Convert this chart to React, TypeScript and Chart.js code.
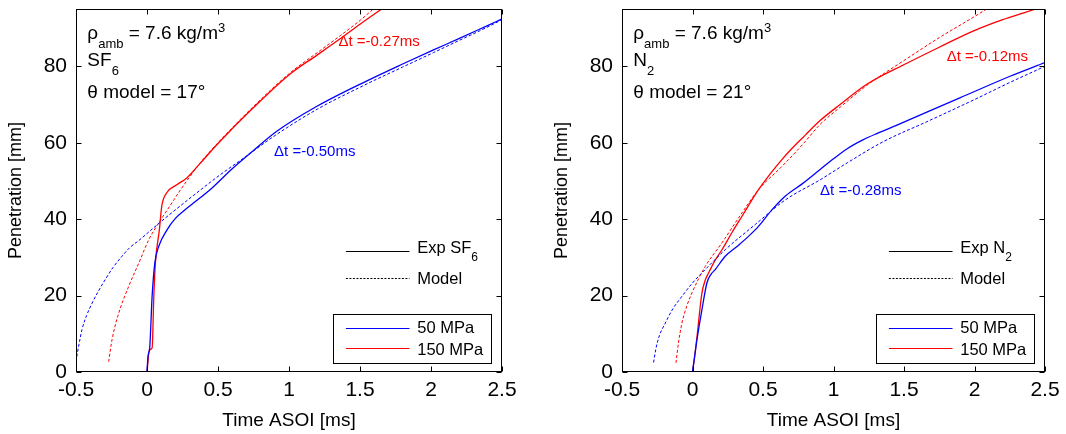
import React, { useEffect, useRef } from "react";
import { Chart, registerables } from "chart.js";

Chart.register(...registerables);

// ---------- axes ----------
const X_TICKS = [-0.5, 0, 0.5, 1, 1.5, 2, 2.5];
const Y_TICKS = [0, 20, 40, 60, 80];
const X_RANGE = [-0.5, 2.5];
const Y_RANGE = [0, 95];

// ---------- text content ----------
const seriesNames = ["50 MPa", "150 MPa"];
const ambientDensity = "7.6";
const gasBase = ["SF", "N"];
const gasSub = ["6", "2"];
const thetaModel = ["17", "21"];
const dt50 = ["-0.50", "-0.28"];
const dt150 = ["-0.27", "-0.12"];

// ---------- SF6 panel data ----------
const sf6Exp50T = [0, 0.007, 0.019, 0.036, 0.055, 0.083, 0.141, 0.2, 0.27, 0.327, 0.444, 0.6, 0.75, 0.914, 1.2, 1.549, 1.8, 2.018, 2.2, 2.394, 2.5];
const sf6Exp50P = [0, 4.1, 6.3, 19.8, 28.5, 32.9, 37.2, 40.2, 42.5, 44.2, 47.7, 53.2, 58, 63, 69.6, 76.2, 80.6, 84.3, 87.3, 90.6, 92.4];

const sf6Mod50T = [-0.5, -0.49, -0.475, -0.458, -0.425, -0.387, -0.34, -0.294, -0.24, -0.176, -0.12, -0.058, 0.036, 0.162, 0.351, 0.515, 0.7, 0.914, 1.2, 1.549, 1.8, 2.018, 2.2, 2.394, 2.5];
const sf6Mod50P = [2.7, 5, 8, 11.1, 14.8, 18, 21.3, 24.2, 27.3, 30.3, 32.6, 34.4, 37.4, 41.3, 46.9, 51.6, 56.5, 62.2, 68.8, 75.4, 79.8, 83.6, 86.8, 90.2, 92.2];

const sf6Exp150T = [0, 0.017, 0.036, 0.048, 0.059, 0.087, 0.104, 0.139, 0.21, 0.28, 0.374, 0.5, 0.75, 1.008, 1.2, 1.36, 1.5, 1.66];
const sf6Exp150P = [0, 5.8, 6.3, 19.8, 28.5, 37.2, 43.4, 46.9, 49, 50.8, 54.6, 59.8, 69.2, 78, 83, 87.2, 91, 95.2];

const sf6Mod150T = [-0.27, -0.246, -0.199, -0.129, -0.058, 0.012, 0.045, 0.1, 0.162, 0.22, 0.28, 0.374, 0.5, 0.75, 1.008, 1.2, 1.36, 1.5, 1.6];
const sf6Mod150P = [2.7, 8.5, 15.4, 22.4, 28.5, 34.6, 36.8, 40, 43.5, 46.8, 50, 54.7, 60, 69.5, 78.3, 83.6, 88, 92, 95.2];

// ---------- N2 panel data ----------
const n2Exp50T = [0, 0.015, 0.032, 0.067, 0.102, 0.13, 0.161, 0.232, 0.32, 0.397, 0.468, 0.56, 0.657, 0.78, 0.905, 1.0, 1.1, 1.212, 1.307, 1.45, 1.662, 1.9, 2.252, 2.5];
const n2Exp50P = [0, 4, 8.5, 16.3, 23.3, 25.5, 26.8, 30.3, 33, 35.5, 38.1, 42.3, 46, 49.3, 53, 55.8, 58.5, 60.8, 62.4, 64.6, 68, 71.8, 77.4, 81];

const n2Mod50T = [-0.276, -0.26, -0.235, -0.193, -0.14, -0.075, 0, 0.09, 0.232, 0.445, 0.657, 0.905, 1.1, 1.354, 1.662, 2.0, 2.252, 2.5];
const n2Mod50P = [2.5, 6, 9.5, 12.8, 16.5, 19.8, 23.3, 26.8, 32, 38.6, 45, 50.3, 54.8, 60.3, 65.5, 71.3, 75.8, 80];

const n2Exp150T = [0, 0.015, 0.032, 0.067, 0.09, 0.114, 0.16, 0.209, 0.28, 0.35, 0.468, 0.55, 0.634, 0.7, 0.8, 0.905, 1.047, 1.236, 1.52, 1.75, 1.99, 2.2, 2.35, 2.46];
const n2Exp150P = [0, 4, 9.3, 20.7, 24, 25.9, 29.2, 32, 36.5, 40.7, 47.7, 51.8, 55.6, 58.3, 62, 65.8, 70, 75.3, 80.8, 85, 89.2, 92.2, 94, 95.3];

const n2Mod150T = [-0.117, -0.1, -0.075, -0.04, -0.004, 0.09, 0.209, 0.35, 0.468, 0.634, 0.78, 0.905, 1.047, 1.236, 1.52, 1.75, 1.99, 2.1];
const n2Mod150P = [2.4, 7.5, 12.8, 17.3, 20.7, 27.6, 33.8, 41.6, 47.7, 53.8, 59.5, 64.8, 69.3, 75, 82, 87.5, 92.8, 95.3];

// ---------- styling ----------
const FONT = "'Liberation Sans', Arial, Helvetica, sans-serif";
const BLUE = "#0000ff";
const RED = "#ff0000";

type Part = { t: string; sub?: boolean; sup?: boolean };

function richText(ctx: CanvasRenderingContext2D, x: number, y: number, parts: Part[], size: number, subSize: number, subDy: number, supDy: number) {
  let cx = x;
  for (const p of parts) {
    const s = p.sub || p.sup ? subSize : size;
    ctx.font = `${s}px ${FONT}`;
    const dy = p.sub ? subDy : p.sup ? supDy : 0;
    ctx.fillText(p.t, cx, y + dy);
    cx += ctx.measureText(p.t).width;
  }
}

type PanelCfg = {
  idx: number;
  exp50: [number[], number[]];
  mod50: [number[], number[]];
  exp150: [number[], number[]];
  mod150: [number[], number[]];
  dt50At: [number, number];
  dt150At: [number, number];
  axisWidth: number;
  padRight: number;
  titlePad: number;
};

const panels: PanelCfg[] = [
  {
    idx: 0,
    exp50: [sf6Exp50T, sf6Exp50P],
    mod50: [sf6Mod50T, sf6Mod50P],
    exp150: [sf6Exp150T, sf6Exp150P],
    mod150: [sf6Mod150T, sf6Mod150P],
    dt50At: [0.895, 56.4],
    dt150At: [1.348, 85.2],
    axisWidth: 76,
    padRight: 31,
    titlePad: 5,
  },
  {
    idx: 1,
    exp50: [n2Exp50T, n2Exp50P],
    mod50: [n2Mod50T, n2Mod50P],
    exp150: [n2Exp150T, n2Exp150P],
    mod150: [n2Mod150T, n2Mod150P],
    dt50At: [0.905, 46.4],
    dt150At: [1.803, 81.3],
    axisWidth: 89,
    padRight: 21,
    titlePad: 18,
  },
];

const toPts = (s: [number[], number[]]) => s[0].map((x, i) => ({ x, y: s[1][i] }));

function decorPlugin(cfg: PanelCfg) {
  return {
    id: "decor" + cfg.idx,
    afterDraw(chart: any) {
      const { ctx, chartArea: a, scales } = chart;
      const xs = scales.x;
      const ys = scales.y;
      ctx.save();
      // frame
      ctx.strokeStyle = "#000";
      ctx.lineWidth = 1;
      const L = a.left + 0.5, R = a.right - 0.5, T = a.top + 0.5, B = a.bottom - 0.5;
      ctx.strokeRect(L, T, R - L, B - T);
      // inward ticks on all four sides
      const tl = 5;
      ctx.beginPath();
      for (const v of X_TICKS) {
        const px = Math.round(xs.getPixelForValue(v)) + 0.5;
        ctx.moveTo(px, B); ctx.lineTo(px, B - tl);
        ctx.moveTo(px, T); ctx.lineTo(px, T + tl);
      }
      for (const v of Y_TICKS) {
        const py = Math.round(ys.getPixelForValue(v)) + 0.5;
        ctx.moveTo(L, py); ctx.lineTo(L + tl, py);
        ctx.moveTo(R, py); ctx.lineTo(R - tl, py);
      }
      ctx.stroke();

      // annotation block top-left
      ctx.fillStyle = "#000";
      ctx.textAlign = "left";
      ctx.textBaseline = "alphabetic";
      const ax = xs.getPixelForValue(-0.42);
      richText(ctx, ax, ys.getPixelForValue(87.2),
        [{ t: "ρ" }, { t: "amb", sub: true }, { t: " = " + ambientDensity + " kg/m" }, { t: "3", sup: true }],
        19, 13, 9, -6.5);
      richText(ctx, ax, ys.getPixelForValue(80),
        [{ t: gasBase[cfg.idx] }, { t: gasSub[cfg.idx], sub: true }], 19, 13, 8.5, -6.5);
      richText(ctx, ax, ys.getPixelForValue(71.7),
        [{ t: "θ model = " + thetaModel[cfg.idx] + "°" }], 19, 13, 8.5, -6.5);

      // delta t labels
      ctx.font = `15px ${FONT}`;
      ctx.fillStyle = BLUE;
      ctx.fillText("Δt =" + dt50[cfg.idx] + "ms", xs.getPixelForValue(cfg.dt50At[0]), ys.getPixelForValue(cfg.dt50At[1]));
      ctx.fillStyle = RED;
      ctx.fillText("Δt =" + dt150[cfg.idx] + "ms", xs.getPixelForValue(cfg.dt150At[0]), ys.getPixelForValue(cfg.dt150At[1]));

      // legends
      const boxW = 158.4, boxH = 48.7;
      const bx = a.right - 10.5 - boxW;
      const by = a.bottom - 9.5 - boxH;
      const lx1 = bx + 12.8, lx2 = bx + 76.4, tx = bx + 84.1;
      const bxr = Math.round(bx) + 0.5, byr = Math.round(by) + 0.5;
      ctx.fillStyle = "#fff";
      ctx.fillRect(bxr, byr, Math.round(boxW), Math.round(boxH));
      ctx.strokeStyle = "#000";
      ctx.lineWidth = 1;
      ctx.strokeRect(bxr, byr, Math.round(boxW), Math.round(boxH));

      // Exp / Model (no box)
      ctx.strokeStyle = "#000";
      ctx.lineWidth = 1.2;
      ctx.setLineDash([]);
      ctx.beginPath();
      ctx.moveTo(lx1, Math.round(by - 63.3) + 0.5);
      ctx.lineTo(lx2, Math.round(by - 63.3) + 0.5);
      ctx.stroke();
      ctx.lineWidth = 1;
      ctx.setLineDash([2, 1.5]);
      ctx.beginPath();
      ctx.moveTo(lx1, Math.round(by - 36.3) + 0.5);
      ctx.lineTo(lx2, Math.round(by - 36.3) + 0.5);
      ctx.stroke();
      ctx.setLineDash([]);
      ctx.fillStyle = "#000";
      richText(ctx, tx, by - 60.7, [{ t: "Exp " + gasBase[cfg.idx] }, { t: gasSub[cfg.idx], sub: true }], 16.5, 12, 8.3, -6);
      richText(ctx, tx, by - 30, [{ t: "Model" }], 16.5, 12, 8.3, -6);

      // series legend inside box
      ctx.lineWidth = 1;
      ctx.strokeStyle = BLUE;
      ctx.beginPath();
      ctx.moveTo(lx1, Math.round(by + 13.7) + 0.5);
      ctx.lineTo(lx2, Math.round(by + 13.7) + 0.5);
      ctx.stroke();
      ctx.strokeStyle = RED;
      ctx.beginPath();
      ctx.moveTo(lx1, Math.round(by + 34.3) + 0.5);
      ctx.lineTo(lx2, Math.round(by + 34.3) + 0.5);
      ctx.stroke();
      ctx.fillStyle = "#000";
      ctx.font = `16.5px ${FONT}`;
      ctx.fillText(seriesNames[0], tx, by + 19.3);
      ctx.fillText(seriesNames[1], tx, by + 41);
      ctx.restore();
    },
  };
}

function buildConfig(cfg: PanelCfg): any {
  const solid = { borderWidth: 1.3, pointRadius: 0, cubicInterpolationMode: "monotone", fill: false };
  const dashed = { borderWidth: 1, borderDash: [3, 2], pointRadius: 0, cubicInterpolationMode: "monotone", fill: false };
  return {
    type: "line",
    data: {
      datasets: [
        { ...dashed, label: seriesNames[0] + " model", data: toPts(cfg.mod50), borderColor: BLUE },
        { ...dashed, label: seriesNames[1] + " model", data: toPts(cfg.mod150), borderColor: RED },
        { ...solid, label: seriesNames[0], data: toPts(cfg.exp50), borderColor: BLUE },
        { ...solid, label: seriesNames[1], data: toPts(cfg.exp150), borderColor: RED },
      ],
    },
    options: {
      animation: false,
      responsive: false,
      devicePixelRatio: 1,
      layout: { padding: { left: 0, right: cfg.padRight, top: 9, bottom: 0 } },
      plugins: { legend: { display: false }, tooltip: { enabled: false } },
      scales: {
        x: {
          type: "linear",
          min: X_RANGE[0],
          max: X_RANGE[1],
          grid: { display: false, drawTicks: false },
          border: { display: false },
          afterBuildTicks: (s: any) => { s.ticks = X_TICKS.map((value) => ({ value })); },
          afterFit: (s: any) => { s.height = 62; s.paddingLeft = 0; s.paddingRight = 0; },
          ticks: {
            autoSkip: false,
            maxRotation: 0,
            padding: 6,
            color: "#000",
            font: { family: FONT, size: 21 },
            callback: (v: any) => String(v),
          },
          title: {
            display: true,
            text: "Time ASOI [ms]",
            color: "#000",
            font: { family: FONT, size: 19 },
            padding: { top: 0, bottom: 2.2 },
          },
        },
        y: {
          type: "linear",
          min: Y_RANGE[0],
          max: Y_RANGE[1],
          grid: { display: false, drawTicks: false },
          border: { display: false },
          afterBuildTicks: (s: any) => { s.ticks = Y_TICKS.map((value) => ({ value })); },
          afterFit: (s: any) => { s.width = cfg.axisWidth; s.paddingTop = 0; s.paddingBottom = 0; },
          ticks: {
            autoSkip: false,
            padding: 9,
            color: "#000",
            font: { family: FONT, size: 21 },
            callback: (v: any) => String(v),
          },
          title: {
            display: true,
            text: "Penetration [mm]",
            color: "#000",
            font: { family: FONT, size: 18 },
            padding: { top: cfg.titlePad, bottom: 0 },
          },
        },
      },
    },
    plugins: [decorPlugin(cfg)],
  };
}

function Panel({ cfg, left }: { cfg: PanelCfg; left: number }) {
  const ref = useRef<HTMLCanvasElement | null>(null);
  useEffect(() => {
    if (!ref.current) return;
    const chart = new Chart(ref.current, buildConfig(cfg));
    return () => chart.destroy();
  }, [cfg]);
  return (
    <canvas
      ref={ref}
      width={533}
      height={434}
      style={{ position: "absolute", left, top: 0, width: 533, height: 434 }}
    />
  );
}

export default function App() {
  return (
    <div style={{ position: "fixed", left: 0, top: 0, width: 1066, height: 434, background: "#fff" }}>
      <Panel cfg={panels[0]} left={0} />
      <Panel cfg={panels[1]} left={533} />
    </div>
  );
}
